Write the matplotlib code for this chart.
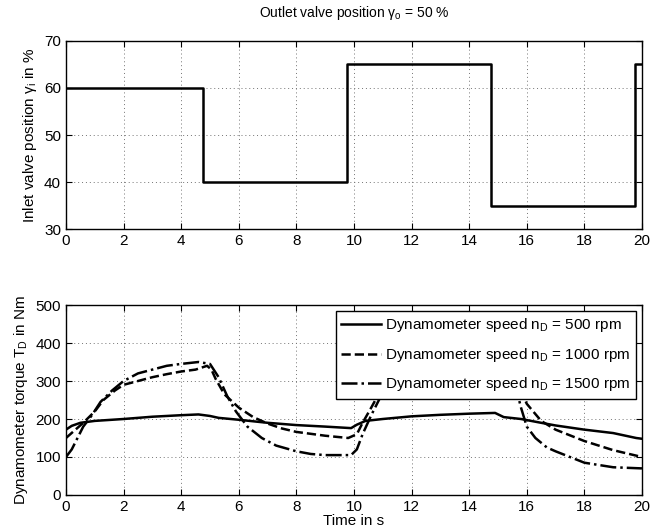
import numpy as np
import matplotlib
matplotlib.use('Agg')
import matplotlib.pyplot as plt

plt.rcParams['font.family'] = ['Liberation Sans', 'DejaVu Sans']
plt.rcParams['mathtext.fontset'] = 'custom'
plt.rcParams['mathtext.rm'] = 'Liberation Sans'

# Inlet valve position (step signal)
t_valve = [0, 4.75, 4.75, 9.75, 9.75, 14.75, 14.75, 19.75, 19.75, 20]
valve = [60, 60, 40, 40, 65, 65, 35, 35, 65, 65]

# Dynamometer torque, n_D = 500 rpm
t500 = [0, 0.2, 0.5, 1, 2, 3, 4, 4.6, 5.0, 5.3, 6, 7, 8, 9, 9.9, 10.1, 10.4,
        11, 12, 13, 14, 14.9, 15.2, 15.8, 16.5, 17, 18, 19, 19.8, 20]
v500 = [172, 182, 190, 195, 200, 206, 210, 212, 208, 203, 198, 190, 184, 180,
        176, 185, 195, 200, 207, 211, 214, 216, 205, 200, 190, 183, 172, 163,
        150, 148]

# n_D = 1000 rpm
t1000 = [0, 0.3, 0.6, 1, 1.3, 1.7, 2, 2.5, 3, 3.5, 4, 4.5, 4.9, 5.05, 5.2,
         5.5, 6, 6.5, 7, 7.5, 8, 9, 9.8, 10.1, 10.3, 10.6, 11, 11.5, 12, 13,
         14, 15, 15.5, 15.7, 16, 16.5, 17, 18, 19, 20]
v1000 = [150, 170, 190, 220, 250, 275, 290, 300, 310, 318, 325, 330, 340, 330,
         305, 265, 230, 205, 188, 175, 166, 156, 150, 160, 190, 230, 285, 320,
         335, 345, 350, 352, 330, 290, 240, 195, 172, 142, 118, 100]

# n_D = 1500 rpm
t1500 = [0, 0.2, 0.4, 0.6, 0.9, 1.2, 1.6, 2, 2.5, 3, 3.5, 4, 4.6, 5, 5.3,
         5.6, 5.9, 6.3, 6.8, 7.3, 8, 8.5, 9, 9.9, 10.1, 10.3, 10.6, 11, 11.5,
         12, 13, 14, 15, 15.4, 15.6, 15.8, 16, 16.3, 16.7, 17, 18, 19, 20]
v1500 = [100, 120, 150, 180, 210, 245, 275, 300, 320, 330, 340, 345, 350, 345,
         310, 260, 220, 180, 150, 130, 115, 108, 105, 105, 120, 160, 210, 270,
         320, 350, 370, 380, 385, 360, 290, 230, 180, 150, 125, 115, 85, 73, 70]

labels = [r'Dynamometer speed n$_\mathregular{D}$ = 500 rpm',
          r'Dynamometer speed n$_\mathregular{D}$ = 1000 rpm',
          r'Dynamometer speed n$_\mathregular{D}$ = 1500 rpm']

fig = plt.figure(figsize=(6.52, 5.31), dpi=100)
ax1 = fig.add_axes([0.1012, 0.5687, 0.8834, 0.3541])
ax2 = fig.add_axes([0.1012, 0.0678, 0.8834, 0.3578])

lw = 1.8
ax1.plot(t_valve, valve, color='black', lw=lw)
ax1.set_xlim(0, 20)
ax1.set_ylim(30, 70)
ax1.set_yticks([30, 40, 50, 60, 70])
ax1.set_ylabel(r'Inlet valve position γ$_\mathregular{i}$ in %', fontsize=11)
ax1.set_title(r'Outlet valve position γ$_\mathregular{o}$ = 50 %', fontsize=10, pad=17)

ax2.plot(t500, v500, color='black', lw=lw, ls='-', label=labels[0])
ax2.plot(t1000, v1000, color='black', lw=lw, ls='--', label=labels[1])
ax2.plot(t1500, v1500, color='black', lw=lw, ls='-.', label=labels[2])
ax2.set_xlim(0, 20)
ax2.set_ylim(0, 500)
ax2.set_yticks(np.arange(0, 501, 100))
ax2.set_ylabel(r'Dynamometer torque T$_\mathregular{D}$ in Nm', fontsize=11)
ax2.set_xlabel('Time in s', fontsize=11, labelpad=0)
leg = ax2.legend(loc='upper right', fontsize=11, fancybox=False, framealpha=1,
                 edgecolor='black', handlelength=2.6, borderaxespad=0.4,
                 labelspacing=0.75, borderpad=0.35, handletextpad=0.3)
leg.get_frame().set_linewidth(1.0)

for ax in (ax1, ax2):
    ax.set_xticks(np.arange(0, 21, 2))
    ax.grid(True, ls=(0, (1, 3)), color='0.45', lw=0.7)
    ax.tick_params(direction='in', top=True, right=True, labelsize=11, length=4)
    for s in ax.spines.values():
        s.set_linewidth(1.0)

fig.savefig('out.png', dpi=100)
